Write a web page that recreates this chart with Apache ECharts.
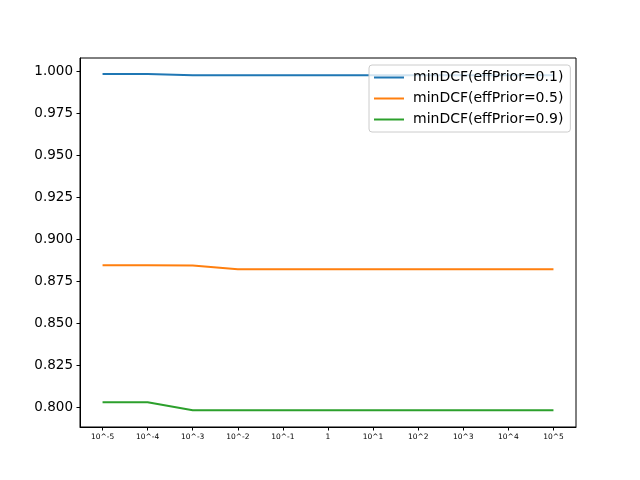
<!DOCTYPE html>
<html>
<head>
<meta charset="UTF-8">
<title>minDCF</title>
<script src="https://cdn.jsdelivr.net/npm/echarts@6/dist/echarts.min.js"></script>
</head>
<body style="margin:0;background:#fff">
<div id="main" style="width:640px;height:480px"></div>
<script type="text/javascript">
// x categories (lambda values)
var lambdas = ['10^-5','10^-4','10^-3','10^-2','10^-1','1','10^1','10^2','10^3','10^4','10^5'];
// minDCF values
var prior01 = [0.9980,0.9980,0.9972,0.9972,0.9972,0.9972,0.9972,0.9972,0.9972,0.9972,0.9972];
var prior05 = [0.8844,0.8844,0.8842,0.8820,0.8820,0.8820,0.8820,0.8820,0.8820,0.8820,0.8820];
var prior09 = [0.8030,0.8030,0.7982,0.7982,0.7982,0.7982,0.7982,0.7982,0.7982,0.7982,0.7982];
var names = ['minDCF(effPrior=0.1)','minDCF(effPrior=0.5)','minDCF(effPrior=0.9)'];
var colors = ['#1f77b4','#ff7f0e','#2ca02c'];

var myChart = echarts.init(document.getElementById('main'));

function mkSeries(name, data, color){
	return {
		name: name, type: 'line', data: data,
		xAxisIndex: 0, yAxisIndex: 0,
		symbol: 'none', smooth: false,
		lineStyle: {color: color, width: 2},
		itemStyle: {color: color}
	};
}

var option = {
	animation: false,
	backgroundColor: '#fff',
	textStyle: {fontFamily: 'DejaVu Sans'},
	legend: {
		orient: 'vertical',
		left: 369, top: 65,
		padding: [5, 7, 5, 5],
		itemGap: 6,
		itemWidth: 30, itemHeight: 2,
		icon: 'rect',
		backgroundColor: 'rgba(255,255,255,0.8)',
		borderColor: '#cccccc', borderWidth: 1, borderRadius: 3,
		textStyle: {fontSize: 14, color: '#000', fontFamily: 'DejaVu Sans', padding: [0,0,0,4], lineHeight: 15},
		data: names
	},
	grid: [
		{left: 80, right: 64, top: 58, bottom: 53, show: true, borderColor: '#000', borderWidth: 1, backgroundColor: 'transparent'},
		{left: 80, right: 64, top: 71, height: 336.5, show: false}
	],
	xAxis: [{
		type: 'category', gridIndex: 0, data: lambdas, boundaryGap: true,
		axisLine: {show: true, lineStyle: {color: '#000'}},
		axisTick: {show: true, alignWithLabel: true, length: 3.5, lineStyle: {color: '#000'}},
		axisLabel: {fontSize: 7.5, color: '#000', margin: 6, interval: 0},
		splitLine: {show: false}
	}, {
		type: 'category', gridIndex: 1, data: lambdas, show: false
	}],
	yAxis: [{
		type: 'value', gridIndex: 0, min: 0.7883, max: 1.0075,
		axisLine: {show: true, lineStyle: {color: '#000'}},
		axisTick: {show: false}, axisLabel: {show: false}, splitLine: {show: false}
	}, {
		type: 'value', gridIndex: 1, min: 0.8, max: 1.0, interval: 0.025,
		axisLine: {show: false},
		axisTick: {show: true, length: 3.5, lineStyle: {color: '#000'}},
		axisLabel: {fontSize: 13.5, color: '#000', margin: 7, formatter: function(v){ return v.toFixed(3); }},
		splitLine: {show: false}
	}],
	series: [
		mkSeries(names[0], prior01, colors[0]),
		mkSeries(names[1], prior05, colors[1]),
		mkSeries(names[2], prior09, colors[2])
	]
};
myChart.setOption(option);
</script>
</body>
</html>
